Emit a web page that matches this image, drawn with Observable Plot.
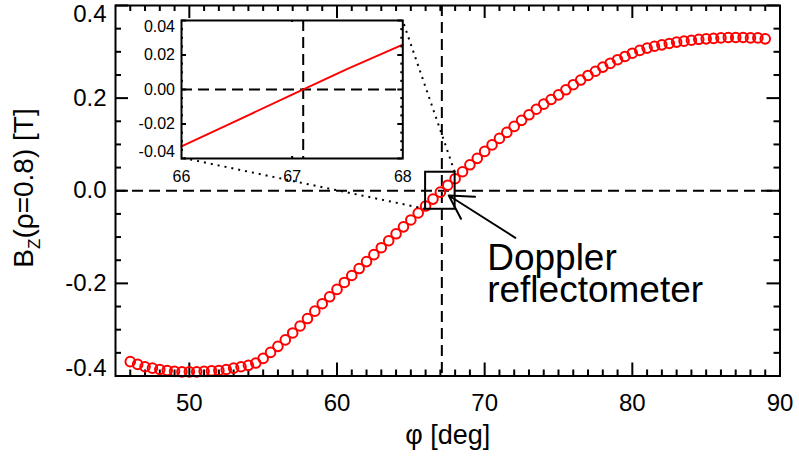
<!DOCTYPE html>
<html><head><meta charset="utf-8">
<script src="https://cdn.jsdelivr.net/npm/d3@7"></script>
<script src="https://cdn.jsdelivr.net/npm/@observablehq/plot@0.6"></script>
<style>
body{margin:0;background:#fff;}
#chart{position:relative;width:799px;height:457px;}
</style></head><body><div id="chart"></div>
<script>
// ---- data ----
const phi = [46,46.5,47,47.5,48,48.5,49,49.5,50,50.5,51,51.5,52,52.5,53,53.5,54,54.5,55,55.5,56,56.5,57,57.5,58,58.5,59,59.5,60,60.5,61,61.5,62,62.5,63,63.5,64,64.5,65,65.5,66,66.5,67,67.5,68,68.5,69,69.5,70,70.5,71,71.5,72,72.5,73,73.5,74,74.5,75,75.5,76,76.5,77,77.5,78,78.5,79,79.5,80,80.5,81,81.5,82,82.5,83,83.5,84,84.5,85,85.5,86,86.5,87,87.5,88,88.5,89];
const bz = [-0.369,-0.375,-0.380,-0.383,-0.386,-0.388,-0.390,-0.391,-0.391,-0.391,-0.390,-0.389,-0.388,-0.386,-0.383,-0.380,-0.377,-0.372,-0.362,-0.349,-0.336,-0.322,-0.307,-0.292,-0.276,-0.260,-0.244,-0.229,-0.213,-0.198,-0.183,-0.168,-0.153,-0.138,-0.123,-0.108,-0.093,-0.078,-0.063,-0.048,-0.033,-0.018,-0.003,0.012,0.026,0.041,0.056,0.070,0.085,0.099,0.113,0.126,0.139,0.152,0.164,0.176,0.187,0.197,0.207,0.218,0.229,0.239,0.249,0.258,0.267,0.275,0.283,0.290,0.297,0.303,0.308,0.312,0.315,0.318,0.321,0.323,0.325,0.327,0.328,0.329,0.330,0.331,0.331,0.331,0.330,0.330,0.328];
const xTicks = [50,60,70,80,90];
const yTicks = [-0.4,-0.2,0.0,0.2,0.4];
const insetXTicks = [66,67,68];
const insetYTicks = [-0.04,-0.02,0.00,0.02,0.04];
const reflectometerPhi = 67.1;
const insetPhiRange = [66,68];
const insetBzRange = [-0.04,0.04];
const annotationLines = ["Doppler","reflectometer"];
const xTitle = "φ [deg]";

// ---- layout ----
const FONT = "'Liberation Sans', Arial, Helvetica, sans-serif";
const W = 799, H = 457, mL = 115, mR = 19.5, mT = 5, mB = 81.5;
const xDom = [45, 90], yDom = [-0.4, 0.4];
const fW = W - mL - mR, fH = H - mT - mB;
const data = phi.map((p, i) => ({phi: p, bz: bz[i]}));
const xMinor = d3.range(46, 90, 1).filter(v => v % 10 !== 0);
const yMinor = d3.range(-8, 9).filter(i => i % 4 !== 0).map(i => i * 0.05);
const dash = "11,6";

// inward tick marks built as rules (length in px converted to data units)
function frameTicks(xs, ys, xd, yd, w, h, lenX, lenY) {
  const ux = (xd[1] - xd[0]) / w, uy = (yd[1] - yd[0]) / h;
  const o = {stroke: "black", strokeWidth: 2};
  return [
    Plot.ruleX(xs, {x: d => d, y1: yd[0], y2: yd[0] + lenX * uy, ...o}),
    Plot.ruleX(xs, {x: d => d, y1: yd[1], y2: yd[1] - lenX * uy, ...o}),
    Plot.ruleY(ys, {y: d => d, x1: xd[0], x2: xd[0] + lenY * ux, ...o}),
    Plot.ruleY(ys, {y: d => d, x1: xd[1], x2: xd[1] - lenY * ux, ...o})
  ];
}

const main = Plot.plot({
  width: W, height: H,
  marginLeft: mL, marginRight: mR, marginTop: mT, marginBottom: mB,
  style: {fontFamily: FONT, fontSize: "24px", color: "black", background: "white"},
  x: {domain: xDom},
  y: {domain: yDom},
  marks: [
    Plot.ruleY([0], {stroke: "black", strokeWidth: 2, strokeDasharray: dash}),
    Plot.ruleX([reflectometerPhi], {stroke: "black", strokeWidth: 2, strokeDasharray: dash}),
    ...frameTicks(xTicks, yTicks, xDom, yDom, fW, fH, 13, 13),
    ...frameTicks(xMinor, yMinor, xDom, yDom, fW, fH, 6, 6),
    Plot.axisX({ticks: xTicks, tickSize: 0, tickPadding: 17.5, label: null, tickFormat: d => String(d)}),
    Plot.axisY({ticks: yTicks.slice(1, -1), tickSize: 0, tickPadding: 9, label: null, tickFormat: d => d.toFixed(1)}),
    Plot.axisY({ticks: [yTicks[yTicks.length - 1]], tickSize: 0, tickPadding: 9, dy: 9, label: null, tickFormat: d => d.toFixed(1)}),
    Plot.axisY({ticks: [yTicks[0]], tickSize: 0, tickPadding: 9, dy: -8, label: null, tickFormat: d => d.toFixed(1)}),
    Plot.text([xTitle], {frameAnchor: "bottom", lineAnchor: "bottom", dy: 68, fontSize: 27}),
    // data
    Plot.dot(data, {x: "phi", y: "bz", r: 4.8, stroke: "#ff0000", strokeWidth: 2, fill: "none"}),
    // zoom box
    Plot.rect([0], {x1: insetPhiRange[0], x2: insetPhiRange[1], y1: insetBzRange[0], y2: insetBzRange[1], fill: "none", stroke: "black", strokeWidth: 2}),
    // annotation
    Plot.arrow([0], {x1: 72.08, y1: -0.1016, x2: 67.57, y2: -0.0103, stroke: "black", strokeWidth: 2, headAngle: 60, headLength: 24}),
    Plot.text([annotationLines[0]], {x: 70.17, y: -0.1707, text: d => d, textAnchor: "start", lineAnchor: "bottom", fontSize: 37}),
    Plot.text([annotationLines[1]], {x: 70.17, y: -0.2407, text: d => d, textAnchor: "start", lineAnchor: "bottom", fontSize: 37}),
    Plot.frame({stroke: "black", strokeWidth: 2})
  ]
});

// y-axis title with subscript
const yl = d3.select(main).append("text")
  .attr("transform", "translate(33,188) rotate(-90)")
  .attr("text-anchor", "middle")
  .style("font-family", FONT).style("font-size", "28px").attr("fill", "black");
yl.append("tspan").text("B");
yl.append("tspan").text("Z").style("font-size", "17px").attr("dy", 7);
yl.append("tspan").text("(ρ=0.8) [T]").attr("dy", -7);

// ---- inset ----
const iL = 70, iR = 14, iT = 10, iB = 30;
const iFW = 221.3, iFH = 138;
const insetX = 181 - iL, insetY = 19.5 - iT;
const insetData = data.filter(d => d.phi >= insetPhiRange[0] && d.phi <= insetPhiRange[1]);
const iYMinor = d3.range(-8, 9).filter(i => i % 4 !== 0).map(i => i * 0.005);
const inset = Plot.plot({
  width: iL + iFW + iR, height: iT + iFH + iB,
  marginLeft: iL, marginRight: iR, marginTop: iT, marginBottom: iB,
  style: {fontFamily: FONT, fontSize: "16px", color: "black", background: "none", overflow: "visible"},
  x: {domain: insetPhiRange},
  y: {domain: insetBzRange},
  marks: [
    Plot.ruleY([0], {stroke: "black", strokeWidth: 2, strokeDasharray: dash}),
    Plot.ruleX([reflectometerPhi], {stroke: "black", strokeWidth: 2, strokeDasharray: dash}),
    Plot.line(insetData, {x: "phi", y: "bz", stroke: "#ff0000", strokeWidth: 2}),
    ...frameTicks([], insetYTicks, insetPhiRange, insetBzRange, iFW, iFH, 5, 5),
    ...frameTicks([insetXTicks[1]], iYMinor, insetPhiRange, insetBzRange, iFW, iFH, 2, 2),
    Plot.axisX({ticks: insetXTicks, tickSize: 0, tickPadding: 12.5, label: null, tickFormat: d => String(d)}),
    Plot.axisY({ticks: insetYTicks.slice(1, -1), tickSize: 0, tickPadding: 6.5, label: null, tickFormat: d => d.toFixed(2)}),
    Plot.axisY({ticks: [insetYTicks[insetYTicks.length - 1]], tickSize: 0, tickPadding: 6.5, dy: 6.5, label: null, tickFormat: d => d.toFixed(2)}),
    Plot.axisY({ticks: [insetYTicks[0]], tickSize: 0, tickPadding: 6.5, dy: -6.5, label: null, tickFormat: d => d.toFixed(2)}),
    Plot.frame({stroke: "black", strokeWidth: 2})
  ]
});

const chart = document.getElementById("chart");
chart.appendChild(main);

// dotted connectors from zoom box to inset corners
const sx = main.scale("x"), sy = main.scale("y");
const g = d3.select(main).append("g")
  .attr("stroke", "black").attr("stroke-width", 2).attr("stroke-dasharray", "2,5").attr("fill", "none");
g.append("line")
  .attr("x1", sx.apply(insetPhiRange[0])).attr("y1", sy.apply(insetBzRange[0]))
  .attr("x2", insetX + iL).attr("y2", insetY + iT + iFH);
g.append("line")
  .attr("x1", sx.apply(insetPhiRange[1])).attr("y1", sy.apply(insetBzRange[1]))
  .attr("x2", insetX + iL + iFW).attr("y2", insetY + iT);

inset.style.position = "absolute";
inset.style.left = insetX + "px";
inset.style.top = insetY + "px";
chart.appendChild(inset);
</script></body></html>
